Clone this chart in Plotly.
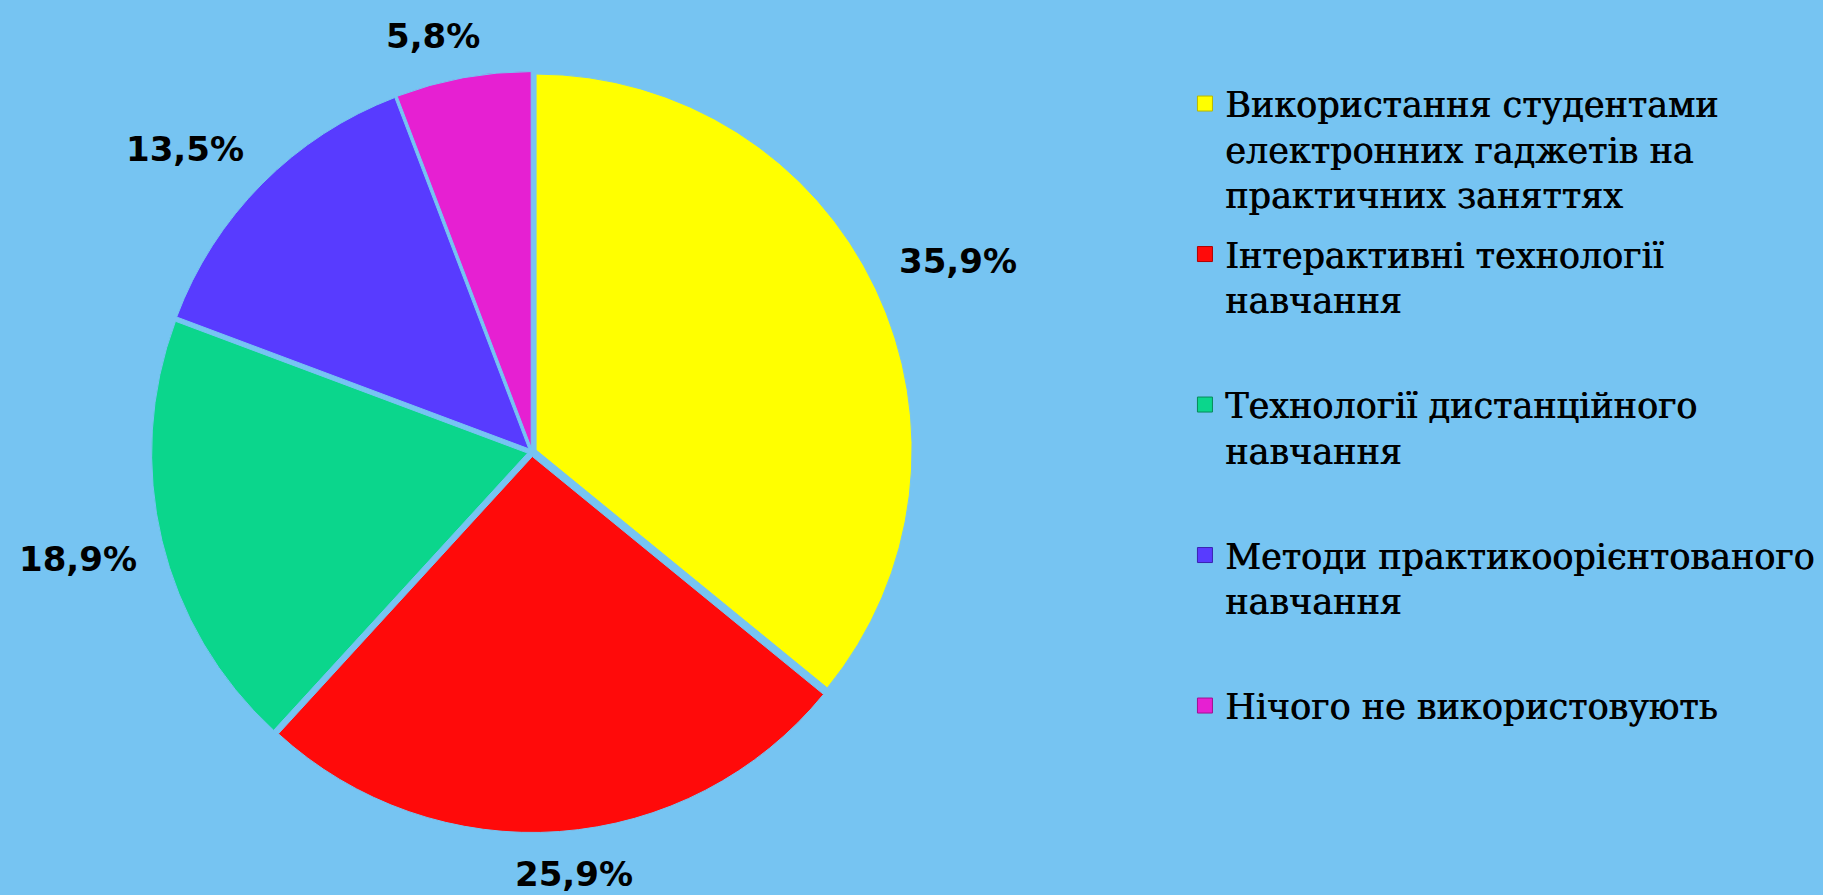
import math
import plotly.graph_objects as go

labels = [
    "Використання студентами<br>електронних гаджетів на<br>практичних заняттях",
    "Інтерактивні технології<br>навчання<br> ",
    "Технології дистанційного<br>навчання<br> ",
    "Методи практикоорієнтованого<br>навчання<br> ",
    "Нічого не використовують",
]
values = [35.9, 25.9, 18.9, 13.5, 5.8]
value_text = ["35,9%", "25,9%", "18,9%", "13,5%", "5,8%"]
colors = ["#FFFF00", "#FF0A0A", "#0BD68C", "#583BFF", "#E620D2"]
edge_colors = ["#B8B800", "#B00000", "#078A5A", "#3A22B0", "#A0108F"]
bg = "#76C4F2"

W, H = 1823, 895
CX, CY, R = 532, 452, 376          # pie centre / radius in pixels
PULL = 0.012
LBL_SIZE = 34
half = R * (1 + PULL)

fig = go.Figure(go.Pie(
    labels=labels,
    values=values,
    textinfo="none",
    sort=False,
    direction="clockwise",
    rotation=0,
    pull=PULL,
    showlegend=False,
    marker=dict(colors=colors, line=dict(color=bg, width=1)),
    domain=dict(x=[(CX - half) / W, (CX + half) / W],
                y=[(H - CY - half) / H, (H - CY + half) / H]),
    hoverinfo="skip",
))

# legend entries (one per slice, same colours as the slices)
for i, (lab, col, ec) in enumerate(zip(labels, colors, edge_colors)):
    fig.add_trace(go.Scatter(
        x=[None], y=[None], mode="markers", name=lab,
        legendgroup=str(i),
        marker=dict(symbol="square", size=15, color=col, line=dict(color=ec, width=1)),
        hoverinfo="skip",
    ))

# value labels placed outside each slice, at the slice's mid-angle
def clamp(v):
    return max(-1.0, min(1.0, v))

total = sum(values)
cum = 0.0
for v, t in zip(values, value_text):
    mid = (cum + v / 2) / total * 2 * math.pi
    cum += v
    s, c = math.sin(mid), math.cos(mid)
    ndig = sum(ch.isdigit() for ch in t)
    w = LBL_SIZE * (0.696 * ndig + 0.38 + 1.0)
    h = LBL_SIZE
    d = R + 30
    px = CX + d * s + w / 2 * clamp(3 * s)
    py = CY - d * c - h / 2 * clamp(3 * c)
    fig.add_annotation(
        x=px / W, y=1 - py / H, xref="paper", yref="paper",
        text=t, showarrow=False, xanchor="center", yanchor="middle",
        font=dict(family="DejaVu Sans", size=LBL_SIZE, color="#000000", weight="bold"),
    )

fig.update_layout(
    width=W, height=H,
    paper_bgcolor=bg, plot_bgcolor=bg,
    margin=dict(l=0, r=0, t=0, b=0, autoexpand=False),
    xaxis=dict(visible=False),
    yaxis=dict(visible=False),
    showlegend=True,
    legend=dict(
        x=0.65, y=0.917, xanchor="left", yanchor="top",
        valign="top",
        traceorder="grouped",
        tracegroupgap=11,
        font=dict(family="DejaVu Serif", size=35, color="#000000",
                  shadow="0.7px 0px 0px #000000"),
        bgcolor="rgba(0,0,0,0)",
        itemclick=False, itemdoubleclick=False,
    ),
)

fig.write_html("out.html", config={"displayModeBar": False},
               post_script="document.body.style.margin='0px';")
